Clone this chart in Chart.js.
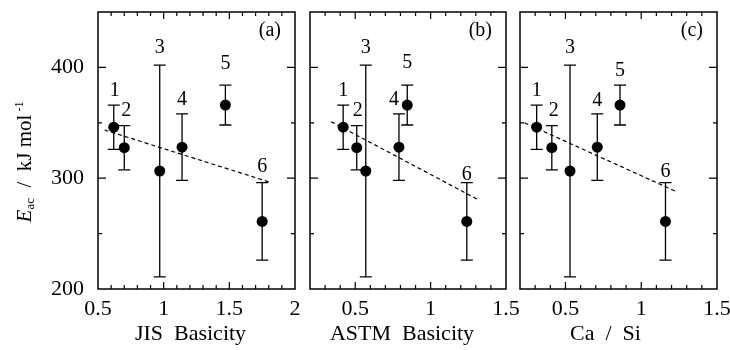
<!DOCTYPE html>
<html>
<head>
<meta charset="utf-8">
<script src="https://cdn.jsdelivr.net/npm/chart.js@4.4.1/dist/chart.umd.min.js"></script>
<style>
  html, body { margin: 0; padding: 0; background: #fff; }
  #wrap { position: relative; width: 730px; height: 350px; }
  #wrap canvas { position: absolute; left: 0; top: 0; }
</style>
</head>
<body>
<div id="wrap">
  <canvas id="panel-a" width="730" height="350"></canvas>
  <canvas id="panel-b" width="730" height="350"></canvas>
  <canvas id="panel-c" width="730" height="350"></canvas>
</div>
<script>
// sample numbers and activation energies (same for all three panels)
const sampleLabels = ["1", "2", "3", "4", "5", "6"];
const eac = [346, 327.5, 306.5, 328, 366, 261];
const eacErr = [20, 20, 95.5, 30, 18, 35];

// x values for each panel
const jisBasicity = [0.62, 0.70, 0.97, 1.14, 1.47, 1.75];
const astmBasicity = [0.42, 0.51, 0.57, 0.79, 0.845, 1.24];
const caSi = [0.31, 0.41, 0.53, 0.71, 0.86, 1.16];

// dashed regression lines (x, y end points)
const jisFit = [[0.55, 343.5], [1.82, 296]];
const astmFit = [[0.34, 351], [1.31, 281]];
const caSiFit = [[0.23, 350], [1.23, 288]];

// tick labels
const yTickLabels = [200, 300, 400];
const jisTickLabels = [0.5, 1, 1.5, 2];
const ratioTickLabels = [0.5, 1, 1.5];

const FONT = "'Liberation Serif', 'Times New Roman', serif";

const isLabeled = (list, v) => list.some(t => Math.abs(t - v) < 1e-6);

const noPad = s => { s.paddingTop = 0; s.paddingBottom = 0; s.paddingLeft = 0; s.paddingRight = 0; };

const panelDecor = {
    id: 'panelDecor',
    beforeDatasetsDraw(chart) {
        const o = chart.options.plugins.panelDecor;
        const {ctx, scales: {x, y}} = chart;
        ctx.save();
        ctx.strokeStyle = '#000';
        ctx.lineWidth = 1.3;
        o.xs.forEach((xv, i) => {
            const px = x.getPixelForValue(xv);
            const top = y.getPixelForValue(eac[i] + eacErr[i]);
            const bot = y.getPixelForValue(eac[i] - eacErr[i]);
            ctx.beginPath();
            ctx.moveTo(px, top); ctx.lineTo(px, bot);
            ctx.moveTo(px - 6, top); ctx.lineTo(px + 6, top);
            ctx.moveTo(px - 6, bot); ctx.lineTo(px + 6, bot);
            ctx.stroke();
        });
        ctx.restore();
    },
    afterDraw(chart) {
        const o = chart.options.plugins.panelDecor;
        const {ctx, chartArea: a, scales: {x, y}} = chart;
        ctx.save();
        ctx.strokeStyle = '#000';
        ctx.fillStyle = '#000';

        // frame
        ctx.lineWidth = 1.5;
        ctx.strokeRect(a.left, a.top, a.right - a.left, a.bottom - a.top);

        // inward ticks on all four sides
        ctx.lineWidth = 1.2;
        ctx.beginPath();
        x.ticks.forEach(t => {
            const px = x.getPixelForValue(t.value);
            if (px <= a.left + 1 || px >= a.right - 1) return;
            const len = isLabeled(o.xTicks, t.value) ? 7 : 4;
            ctx.moveTo(px, a.bottom); ctx.lineTo(px, a.bottom - len);
            ctx.moveTo(px, a.top); ctx.lineTo(px, a.top + len);
        });
        y.ticks.forEach(t => {
            const py = y.getPixelForValue(t.value);
            if (py <= a.top + 1 || py >= a.bottom - 1) return;
            const len = isLabeled(yTickLabels, t.value) ? 8 : 4;
            ctx.moveTo(a.left, py); ctx.lineTo(a.left + len, py);
            ctx.moveTo(a.right, py); ctx.lineTo(a.right - len, py);
        });
        ctx.stroke();

        // sample numbers above the error bars
        ctx.font = '20px ' + FONT;
        ctx.textAlign = 'center';
        ctx.textBaseline = 'alphabetic';
        o.xs.forEach((xv, i) => {
            const px = x.getPixelForValue(xv);
            const top = y.getPixelForValue(eac[i] + eacErr[i]);
            ctx.fillText(sampleLabels[i], px + o.labelDx[i], top - o.labelGap[i]);
        });

        // panel tag
        ctx.textAlign = 'right';
        ctx.fillText(o.tag, a.right - 14, 36);

        // x axis title
        ctx.font = '22px ' + FONT;
        ctx.textAlign = 'center';
        ctx.textBaseline = 'middle';
        ctx.fillText(o.title, (a.left + a.right) / 2 + o.titleShift, 334);

        // y axis title, only on the first panel
        if (o.yTitle) {
            const parts = [
                {t: 'E', f: 'italic 21px ' + FONT, dy: 0},
                {t: 'ac', f: '13px ' + FONT, dy: 3},
                {t: '  /  kJ mol', f: '21px ' + FONT, dy: 0},
                {t: ' -1', f: '12px ' + FONT, dy: -8}
            ];
            let w = 0;
            parts.forEach(p => { ctx.font = p.f; p.w = ctx.measureText(p.t).width; w += p.w; });
            ctx.translate(31, 162);
            ctx.rotate(-Math.PI / 2);
            ctx.textAlign = 'left';
            ctx.textBaseline = 'alphabetic';
            let cx = -w / 2;
            parts.forEach(p => { ctx.font = p.f; ctx.fillText(p.t, cx, p.dy); cx += p.w; });
        }
        ctx.restore();
    }
};

let makePanel = (idName, o) => {
    new Chart(document.getElementById(idName), {
        type: 'scatter',
        data: {
            datasets: [
                {
                    data: o.xs.map((v, i) => ({x: v, y: eac[i]})),
                    backgroundColor: '#000',
                    borderWidth: 0,
                    pointRadius: 5.5,
                    pointHoverRadius: 5.5
                },
                {
                    type: 'line',
                    data: o.fit.map(p => ({x: p[0], y: p[1]})),
                    borderColor: '#000',
                    borderWidth: 1.2,
                    borderDash: [4, 3],
                    pointRadius: 0,
                    fill: false
                }
            ]
        },
        options: {
            responsive: false,
            animation: false,
            events: [],
            layout: {padding: {left: o.yTitle ? 0 : o.left, right: 730 - o.right, top: 12, bottom: 0}},
            plugins: {
                legend: {display: false},
                tooltip: {enabled: false},
                panelDecor: o
            },
            scales: {
                x: {
                    type: 'linear',
                    min: o.min,
                    max: o.max,
                    ticks: {
                        stepSize: 0.1,
                        maxTicksLimit: 100,
                        autoSkip: false,
                        maxRotation: 0,
                        padding: -1,
                        color: '#000',
                        font: {family: FONT, size: 22},
                        callback: v => isLabeled(o.xTicks, v) ? String(+v.toFixed(2)) : ''
                    },
                    grid: {display: false},
                    border: {display: false},
                    afterFit: s => { s.height = 61; noPad(s); }
                },
                y: {
                    type: 'linear',
                    min: 200,
                    max: 450,
                    display: o.yTitle,
                    ticks: {
                        stepSize: 50,
                        maxTicksLimit: 100,
                        autoSkip: false,
                        padding: 6,
                        color: '#000',
                        font: {family: FONT, size: 22},
                        callback: v => isLabeled(yTickLabels, v) ? String(v) : ''
                    },
                    grid: {display: false},
                    border: {display: false},
                    afterFit: s => { s.width = o.yTitle ? o.left : 0; noPad(s); }
                }
            }
        },
        plugins: [panelDecor]
    });
}

makePanel('panel-a', {
    xs: jisBasicity, fit: jisFit, min: 0.5, max: 2, xTicks: jisTickLabels,
    left: 98, right: 295, tag: '(a)', title: 'JIS  Basicity', titleShift: -6, yTitle: true,
    labelDx: [1, 2, 0, 0, 0, 0], labelGap: [9, 10, 12, 9, 16, 11]
});
makePanel('panel-b', {
    xs: astmBasicity, fit: astmFit, min: 0.2, max: 1.5, xTicks: ratioTickLabels,
    left: 310, right: 506, tag: '(b)', title: 'ASTM  Basicity', titleShift: -6, yTitle: false,
    labelDx: [0, 1, 0, -5, 0, 0], labelGap: [9, 10, 12, 9, 17, 3]
});
makePanel('panel-c', {
    xs: caSi, fit: caSiFit, min: 0.2, max: 1.5, xTicks: ratioTickLabels,
    left: 520, right: 717, tag: '(c)', title: 'Ca  /  Si', titleShift: -13, yTitle: false,
    labelDx: [0, 2, 0, 0, 0, 0], labelGap: [9, 10, 12, 8, 9, 6]
});
</script>
</body>
</html>
